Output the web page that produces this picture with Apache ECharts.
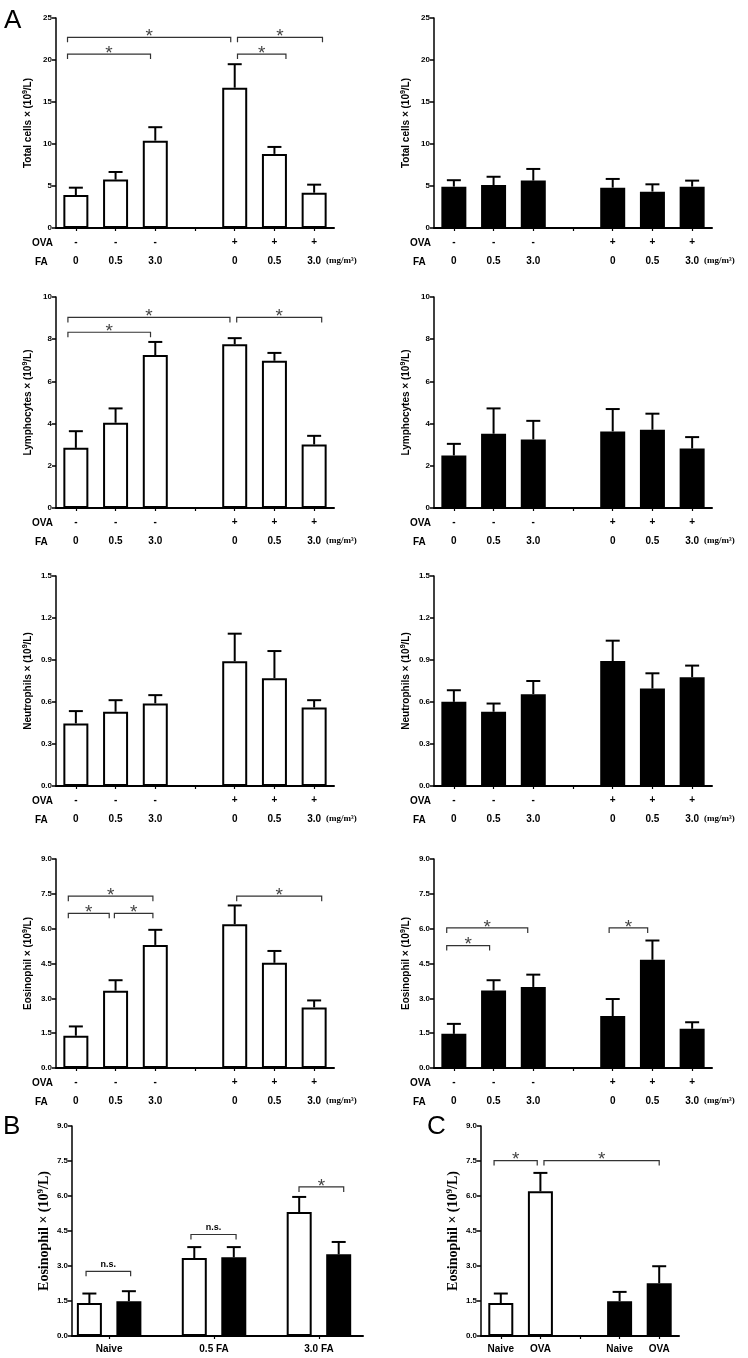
<!DOCTYPE html>
<html><head><meta charset="utf-8">
<script src="https://cdn.jsdelivr.net/npm/echarts@6/dist/echarts.min.js"></script>
<style>html,body{margin:0;padding:0;background:#fff}#c{width:748px;height:1358px}</style>
</head><body><div id="c"></div>
<script>
// ---------------- data ----------------
const ovaRow = ['-', '-', '-', '', '+', '+', '+'];
const faRow  = ['0', '0.5', '3.0', '', '0', '0.5', '3.0'];

const totalTicks = ['0', '5', '10', '15', '20', '25'];
const lymphTicks = ['0', '2', '4', '6', '8', '10'];
const neutTicks  = ['0.0', '0.3', '0.6', '0.9', '1.2', '1.5'];
const eosTicks   = ['0.0', '1.5', '3.0', '4.5', '6.0', '7.5', '9.0'];

// row 1: total cells
const totalWhite    = [3.93, 5.76, 10.4, null, 16.7, 8.82, 4.2];
const totalWhiteSem = [0.87, 0.91, 1.6, null, 2.8, 0.83, 0.96];
const totalBlack    = [4.92, 5.12, 5.64, null, 4.8, 4.33, 4.92];
const totalBlackSem = [0.77, 0.98, 1.39, null, 1.04, 0.87, 0.72];
// row 2: lymphocytes
const lymphWhite    = [2.85, 4.04, 7.25, null, 7.76, 6.98, 3.01];
const lymphWhiteSem = [0.79, 0.68, 0.62, null, 0.29, 0.37, 0.41];
const lymphBlack    = [2.49, 3.52, 3.25, null, 3.63, 3.71, 2.82];
const lymphBlackSem = [0.55, 1.2, 0.88, null, 1.06, 0.76, 0.54];
// row 3: neutrophils
const neutWhite    = [0.447, 0.53, 0.59, null, 0.891, 0.77, 0.561];
const neutWhiteSem = [0.088, 0.083, 0.059, null, 0.197, 0.194, 0.052];
const neutBlack    = [0.601, 0.53, 0.656, null, 0.893, 0.696, 0.777];
const neutBlackSem = [0.083, 0.059, 0.094, null, 0.145, 0.109, 0.083];
// row 4: eosinophils
const eosWhite    = [1.39, 3.33, 5.3, null, 6.19, 4.53, 2.61];
const eosWhiteSem = [0.4, 0.45, 0.65, null, 0.81, 0.51, 0.3];
const eosBlack    = [1.47, 3.34, 3.49, null, 2.24, 4.66, 1.69];
const eosBlackSem = [0.43, 0.44, 0.53, null, 0.73, 0.83, 0.28];

// panel B
const bCategories = ['Naive', '0.5 FA', '3.0 FA'];
const bWhite    = [1.41, 3.34, 5.31];
const bWhiteSem = [0.41, 0.47, 0.65];
const bBlack    = [1.49, 3.37, 3.5];
const bBlackSem = [0.43, 0.44, 0.53];

// panel C
const cCategories = ['Naive', 'OVA', '', 'Naive', 'OVA'];
const cWhite    = [1.41, 6.2, null, null, null];
const cWhiteSem = [0.41, 0.79, null, null, null];
const cBlack    = [null, null, null, 1.49, 2.26];
const cBlackSem = [null, null, null, 0.4, 0.73];

// significance brackets: [from, to, level, label] in axis units
const totalSigWhite = [[-0.21, 3.90, 22.7, '*'], [-0.21, 1.88, 20.7, '*'], [4.07, 6.21, 22.7, '*'], [4.07, 5.29, 20.7, '*']];
const lymphSigWhite = [[-0.2, 3.88, 9.03, '*'], [-0.2, 1.88, 8.33, '*'], [4.05, 6.19, 9.03, '*']];
const eosSigWhite   = [[-0.19, 1.94, 7.4, '*'], [-0.19, 0.84, 6.66, '*'], [0.97, 1.94, 6.66, '*'], [4.05, 6.19, 7.4, '*']];
const eosSigBlack   = [[-0.18, 1.86, 6.03, '*'], [-0.18, 0.9, 5.27, '*'], [3.91, 4.88, 6.03, '*']];
const bSig = [[-0.22, 0.205, 2.77, 'n.s.'], [0.78, 1.21, 4.35, 'n.s.'], [1.81, 2.236, 6.39, '*']];
const cSig = [[-0.17, 0.92, 7.52, '*'], [1.09, 4.0, 7.52, '*']];

// ---------------- layout / style ----------------
const SANS = '"Liberation Sans", Arial, sans-serif';
const SERIF = '"Liberation Serif", "Times New Roman", serif';
const BAR_W = 25;
const B_GAP = 0.58;
const B_OFF = (BAR_W + BAR_W * B_GAP) / 2;

const colL = 56, colR = 434, colW = 278;
const rows = [{ top: 18, h: 210 }, { top: 297, h: 211 }, { top: 576, h: 210 }, { top: 859, h: 209 }];
const bcRow = { top: 1126, h: 210 };

const aPanels = [
  { row: 0, left: colL, name: 'Total cells × (10{sup|9}/L)', ticks: totalTicks, mean: totalWhite, sem: totalWhiteSem, fill: '#fff', sig: totalSigWhite },
  { row: 0, left: colR, name: 'Total cells × (10{sup|9}/L)', ticks: totalTicks, mean: totalBlack, sem: totalBlackSem, fill: '#000', sig: [] },
  { row: 1, left: colL, name: 'Lymphocytes × (10{sup|9}/L)', ticks: lymphTicks, mean: lymphWhite, sem: lymphWhiteSem, fill: '#fff', sig: lymphSigWhite },
  { row: 1, left: colR, name: 'Lymphocytes × (10{sup|9}/L)', ticks: lymphTicks, mean: lymphBlack, sem: lymphBlackSem, fill: '#000', sig: [] },
  { row: 2, left: colL, name: 'Neutrophils × (10{sup|9}/L)', ticks: neutTicks, mean: neutWhite, sem: neutWhiteSem, fill: '#fff', sig: [] },
  { row: 2, left: colR, name: 'Neutrophils × (10{sup|9}/L)', ticks: neutTicks, mean: neutBlack, sem: neutBlackSem, fill: '#000', sig: [] },
  { row: 3, left: colL, name: 'Eosinophil × (10{sup|9}/L)', ticks: eosTicks, mean: eosWhite, sem: eosWhiteSem, fill: '#fff', sig: eosSigWhite },
  { row: 3, left: colR, name: 'Eosinophil × (10{sup|9}/L)', ticks: eosTicks, mean: eosBlack, sem: eosBlackSem, fill: '#000', sig: eosSigBlack }
];

const grids = [], xAxes = [], yAxes = [], series = [], graphics = [];

function yAxisCfg(gi, ticks, name, serif) {
  const vals = ticks.map(Number);
  const interval = vals[1] - vals[0];
  const fam = serif ? SERIF : SANS;
  const fs = serif ? 14 : 10;
  return {
    type: 'value', gridIndex: gi, min: 0, max: vals[vals.length - 1], interval: interval,
    axisLine: { show: true, onZero: false, lineStyle: { color: '#000', width: 1.5 } },
    axisTick: { show: true, length: 4, lineStyle: { color: '#000', width: 1.5 } },
    splitLine: { show: false },
    axisLabel: { fontSize: 8, fontWeight: 'bold', color: '#000', fontFamily: SANS, margin: 4,
      formatter: v => ticks[Math.round(v / interval)] },
    name: name, nameLocation: 'middle', nameGap: serif ? 20 : 22,
    nameTextStyle: { fontSize: fs, fontWeight: 'bold', color: '#000', fontFamily: fam, lineHeight: fs + 2,
      rich: { sup: { fontSize: Math.round(fs * 0.65), fontWeight: 'bold', fontFamily: fam, color: '#000', verticalAlign: 'top', lineHeight: fs + 2, padding: [0, 0, Math.round(fs * 0.45), 0] } } }
  };
}

function barSeries(gi, data, fill, extra) {
  return Object.assign({
    type: 'bar', xAxisIndex: gi, yAxisIndex: gi, data: data, barWidth: BAR_W, z: 3,
    itemStyle: { color: fill, borderColor: '#000', borderWidth: 2 },
    silent: true, animation: false
  }, extra || {});
}

function errSeries(gi, xs, mean, sem, offsetPx) {
  const data = [];
  mean.forEach((m, i) => { if (m != null) data.push([xs[i], m, m + sem[i]]); });
  return {
    type: 'custom', xAxisIndex: gi, yAxisIndex: gi, data: data, z: 2, silent: true, animation: false,
    encode: { x: 0, y: [1, 2] },
    renderItem(params, api) {
      const p0 = api.coord([api.value(0), api.value(1)]);
      const p1 = api.coord([api.value(0), api.value(2)]);
      const cx = p0[0] + offsetPx;
      return { type: 'group', children: [
        { type: 'line', shape: { x1: cx, y1: p0[1], x2: cx, y2: p1[1] }, style: { stroke: '#000', lineWidth: 2 } },
        { type: 'line', shape: { x1: cx - 7, y1: p1[1], x2: cx + 7, y2: p1[1] }, style: { stroke: '#000', lineWidth: 2 } }
      ] };
    }
  };
}

function sigSeries(gi, list) {
  return {
    type: 'custom', xAxisIndex: gi, yAxisIndex: gi, z: 4, silent: true, animation: false,
    data: list.map(b => [0, b[2]]),
    encode: { x: 0, y: 1 },
    renderItem(params, api) {
      const b = list[params.dataIndex];
      const o = api.coord([0, api.value(1)]);
      const u = api.coord([1, api.value(1)])[0] - o[0];
      const x1 = o[0] + b[0] * u, x2 = o[0] + b[1] * u, y = o[1];
      const isStar = b[3] === '*';
      return { type: 'group', children: [
        { type: 'polyline', shape: { points: [[x1, y + 5], [x1, y], [x2, y], [x2, y + 5]] },
          style: { stroke: '#333', lineWidth: 1.2, fill: null } },
        { type: 'text', x: (x1 + x2) / 2, y: isStar ? y + 9 : y - 2,
          style: { text: b[3], fill: isStar ? '#444' : '#000',
            font: isStar ? '19px ' + SANS : 'bold 9px ' + SANS, align: 'center', verticalAlign: 'bottom' } }
      ] };
    }
  };
}

// ---- A panels ----
const aCats = ovaRow.map((o, i) => o + '|' + faRow[i] + '|' + i);
aPanels.forEach((p, gi) => {
  const r = rows[p.row];
  grids.push({ left: p.left, top: r.top, width: colW, height: r.h });
  xAxes.push({
    type: 'category', gridIndex: gi, data: aCats, boundaryGap: true,
    axisLine: { show: true, lineStyle: { color: '#000', width: 2 } },
    axisTick: { show: true, alignWithLabel: true, length: 3, lineStyle: { color: '#000', width: 1.2 } },
    axisLabel: { interval: 0, margin: 5, color: '#000',
      formatter: (v, idx) => '{a|' + ovaRow[idx] + '}\n{b|' + faRow[idx] + '}',
      rich: { a: { fontSize: 10, fontWeight: 'bold', fontFamily: SANS, lineHeight: 19, color: '#000' },
              b: { fontSize: 10, fontWeight: 'bold', fontFamily: SANS, lineHeight: 19, color: '#000' } } }
  });
  yAxes.push(yAxisCfg(gi, p.ticks, p.name, false));
  const xs = p.mean.map((_, i) => i);
  series.push(barSeries(gi, p.mean, p.fill));
  series.push(errSeries(gi, xs, p.mean, p.sem, 0));
  if (p.sig.length) series.push(sigSeries(gi, p.sig));
  const bottom = r.top + r.h;
  graphics.push({ type: 'text', x: p.left - 24, y: bottom + 15, style: { text: 'OVA', font: 'bold 10px ' + SANS, fill: '#000', align: 'left', verticalAlign: 'middle' } });
  graphics.push({ type: 'text', x: p.left - 21, y: bottom + 34, style: { text: 'FA', font: 'bold 10px ' + SANS, fill: '#000', align: 'left', verticalAlign: 'middle' } });
  graphics.push({ type: 'text', x: p.left + 270, y: bottom + 33, style: { text: '(mg/m³)', font: 'bold 9px ' + SERIF, fill: '#000', align: 'left', verticalAlign: 'middle' } });
});

// ---- panel B ----
let gi = grids.length;
grids.push({ left: 72, top: bcRow.top, width: 291, height: bcRow.h });
xAxes.push({
  type: 'value', gridIndex: gi, min: -0.354, max: 2.42,
  splitLine: { show: false },
  axisLine: { show: true, onZero: false, lineStyle: { color: '#000', width: 2 } },
  axisTick: { show: true, length: 3, customValues: [0, 1, 2], lineStyle: { color: '#000', width: 1.2 } },
  axisLabel: { customValues: [0, 1, 2], margin: 8, fontSize: 10, fontWeight: 'bold', color: '#000', fontFamily: SANS,
    formatter: v => bCategories[Math.round(v)] }
});
yAxes.push(yAxisCfg(gi, eosTicks, 'Eosinophil × (10{sup|9}/L)', true));
series.push(barSeries(gi, bWhite.map((v, i) => [i, v]), '#fff', { barGap: (B_GAP * 100) + '%' }));
series.push(barSeries(gi, bBlack.map((v, i) => [i, v]), '#000', { barGap: (B_GAP * 100) + '%' }));
series.push(errSeries(gi, [0, 1, 2], bWhite, bWhiteSem, -B_OFF));
series.push(errSeries(gi, [0, 1, 2], bBlack, bBlackSem, B_OFF));
series.push(sigSeries(gi, bSig));

// ---- panel C ----
gi = grids.length;
grids.push({ left: 481, top: bcRow.top, width: 198, height: bcRow.h });
xAxes.push({
  type: 'category', gridIndex: gi, data: cCategories, boundaryGap: true,
  axisLine: { show: true, lineStyle: { color: '#000', width: 2 } },
  axisTick: { show: true, alignWithLabel: true, length: 3, lineStyle: { color: '#000', width: 1.2 } },
  axisLabel: { interval: 0, margin: 8, fontSize: 10, fontWeight: 'bold', color: '#000', fontFamily: SANS }
});
yAxes.push(yAxisCfg(gi, eosTicks, 'Eosinophil × (10{sup|9}/L)', true));
series.push(barSeries(gi, cWhite, '#fff', { barGap: '-100%' }));
series.push(barSeries(gi, cBlack, '#000', { barGap: '-100%' }));
series.push(errSeries(gi, [0, 1, 2, 3, 4], cWhite, cWhiteSem, 0));
series.push(errSeries(gi, [0, 1, 2, 3, 4], cBlack, cBlackSem, 0));
series.push(sigSeries(gi, cSig));

// ---- panel letters ----
[['A', 4, 8], ['B', 3, 1114], ['C', 427, 1114]].forEach(l => {
  graphics.push({ type: 'text', x: l[1], y: l[2], style: { text: l[0], font: '26px ' + SANS, fill: '#000', align: 'left', verticalAlign: 'top' } });
});

const chart = echarts.init(document.getElementById('c'), null, { renderer: 'canvas' });
chart.setOption({
  animation: false,
  backgroundColor: '#fff',
  textStyle: { fontFamily: SANS },
  grid: grids, xAxis: xAxes, yAxis: yAxes, series: series, graphic: graphics
});
</script></body></html>
